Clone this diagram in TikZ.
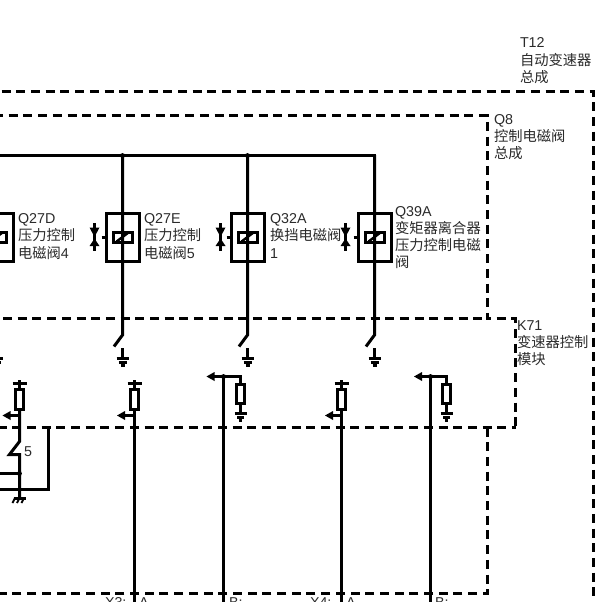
\documentclass[tikz,border=0pt]{standalone}
\usepackage{fontspec}
\setmainfont{Liberation Sans}
\newfontfamily\cjk{Noto Sans CJK SC}
\definecolor{txt}{HTML}{2A2A2A}
\tikzset{
  wire/.style={line width=3pt,line cap=butt,line join=miter},
  thinwire/.style={line width=2.4pt},
  boxdash/.style={line width=3pt,dash pattern=on 9pt off 5.7pt},
  lbl/.style={anchor=north west,inner sep=0pt,outer sep=0pt,align=left,text=txt,font=\fontsize{14.3}{17.3}\selectfont},
}
\newcommand{\fl}{\rule{0pt}{12pt}}
\newcommand{\solenoid}[3]{%
  \draw[wire] (#2-16,213.5) rectangle (#2+17,261.5);
  \draw[wire] (#2-9,232.5) rectangle (#2+10,242.5);
  \draw[thinwire] (#2-6,241.5) -- (#2+6,232.5);
  \draw[wire] (#2-21,237.5) -- (#2-16,237.5);
  \draw[thinwire] (#3,223) -- (#3,251);
  \fill (#3-5,227.5) -- (#3+5,227.5) -- (#3,237) -- cycle;
  \fill (#3-5,246) -- (#3+5,246) -- (#3,238.5) -- cycle;
  \draw[wire] (#2,155) -- (#2,335) -- (#2-8.5,346.5);
  \draw[wire] (#2,348) -- (#2,358);
  \draw[wire] (#2-6,358.5) -- (#2+6,358.5);
  \draw[thinwire] (#2-4,362.5) -- (#2+4,362.5);
  \draw[thinwire] (#2-2,365.5) -- (#2+2,365.5);
}
\newcommand{\pullup}[2]{%
  \draw[thinwire] (#1,380) -- (#1,383.5);
  \draw[wire] (#1-7,383.5) -- (#1+7,383.5);
  \draw[wire] (#1,383.5) -- (#1,389.5);
  \draw[wire] (#1-4,389.5) rectangle (#1+4,409.5);
  \draw[wire] (#1,415.5) -- (#2+5,415.5);
  \fill (#2,415.5) -- (#2+8,411) -- (#2+8,420) -- cycle;
}
\newcommand{\pulldown}[3]{%
  \draw[wire] (#1,376.5) -- (#1,602);
  \draw[wire] (#3+5,376.5) -- (#2,376.5) -- (#2,384.5);
  \fill (#3,376.5) -- (#3+8,372) -- (#3+8,381) -- cycle;
  \fill (#1,376.5) circle (2.4pt);
  \draw[wire] (#2-4,384.5) rectangle (#2+4,403.5);
  \draw[wire] (#2,403.5) -- (#2,413.5);
  \draw[wire] (#2-6,413.5) -- (#2+6,413.5);
  \draw[thinwire] (#2-3.5,417.5) -- (#2+3.5,417.5);
  \draw[thinwire] (#2-1.8,420.5) -- (#2+1.8,420.5);
}
\begin{document}
\begin{tikzpicture}[x=1pt,y=-1pt]
\useasboundingbox (0,0) rectangle (602,602);
\clip (0,0) rectangle (602,602);
\draw[boxdash] (1.6,91.5) -- (593.5,91.5) -- (593.5,602);
\draw[boxdash] (-6,115.5) -- (487.5,115.5) -- (487.5,318.5) -- (515.5,318.5) -- (515.5,427.5);
\draw[boxdash] (-11.7,318.5) -- (487.5,318.5);
\draw[boxdash] (-2.5,427.5) -- (515.5,427.5);
\draw[boxdash] (487.5,427.5) -- (487.5,593.5) -- (-6,593.5);
\draw[wire] (0,155.5) -- (375.5,155.5);
\fill (122.5,155.5) circle (2.4pt);
\fill (247.5,155.5) circle (2.4pt);
\solenoid{d}{-3.5}{-31.5}
\solenoid{e}{122.5}{94.5}
\solenoid{a}{247.5}{220.5}
\solenoid{b}{374.5}{345.5}
\pullup{19.5}{2.5}
\pullup{134.5}{117}
\draw[wire] (134.5,409.5) -- (134.5,602);
\pullup{341.5}{325}
\draw[wire] (341.5,409.5) -- (341.5,602);
\pulldown{223.5}{240.5}{206.5}
\pulldown{430.5}{446.5}{414}
\draw[wire] (19.5,409.5) -- (19.5,441.5) -- (9.5,454.5) -- (19.5,454.5) -- (19.5,498.5);
\draw[wire] (0,473.5) -- (19.5,473.5);
\fill (19.5,473.5) circle (2.4pt);
\draw[wire] (0,489.5) -- (48.5,489.5) -- (48.5,427.5);
\draw[wire] (13.5,498.5) -- (26,498.5);
\draw[line width=1.8pt] (15,498) -- (12.5,503) (19.5,498) -- (17,503) (24,498) -- (21.5,503);
\node[lbl] (t12) at (520,36) {\fl T12\\{\cjk 自动变速器}\\{\cjk 总成}};
\node[lbl] (q8) at (494,112) {\fl Q8\\{\cjk 控制电磁阀}\\{\cjk 总成}};
\node[lbl] (q27d) at (18,211.5) {\fl Q27D\\{\cjk 压力控制}\\{\cjk 电磁阀}4};
\node[lbl] (q27e) at (144,211.5) {\fl Q27E\\{\cjk 压力控制}\\{\cjk 电磁阀}5};
\node[lbl] (q32a) at (270,211.5) {\fl Q32A\\{\cjk 换挡电磁阀}\\1};
\node[lbl] (q39a) at (395,204) {\fl Q39A\\{\cjk 变矩器离合器}\\{\cjk 压力控制电磁}\\{\cjk 阀}};
\node[lbl] (k71) at (517,318) {\fl K71\\{\cjk 变速器控制}\\{\cjk 模块}};
\node[lbl] (five) at (24,444) {\fl 5};
\node[lbl] (x3) at (105,595) {\fl X3:};
\node[lbl] (a1) at (139,595) {\fl A};
\node[lbl] (b1) at (229,595) {\fl B:};
\node[lbl] (x4) at (310,595) {\fl X4:};
\node[lbl] (a2) at (346,595) {\fl A};
\node[lbl] (b2) at (435,595) {\fl B:};
\end{tikzpicture}
\end{document}
